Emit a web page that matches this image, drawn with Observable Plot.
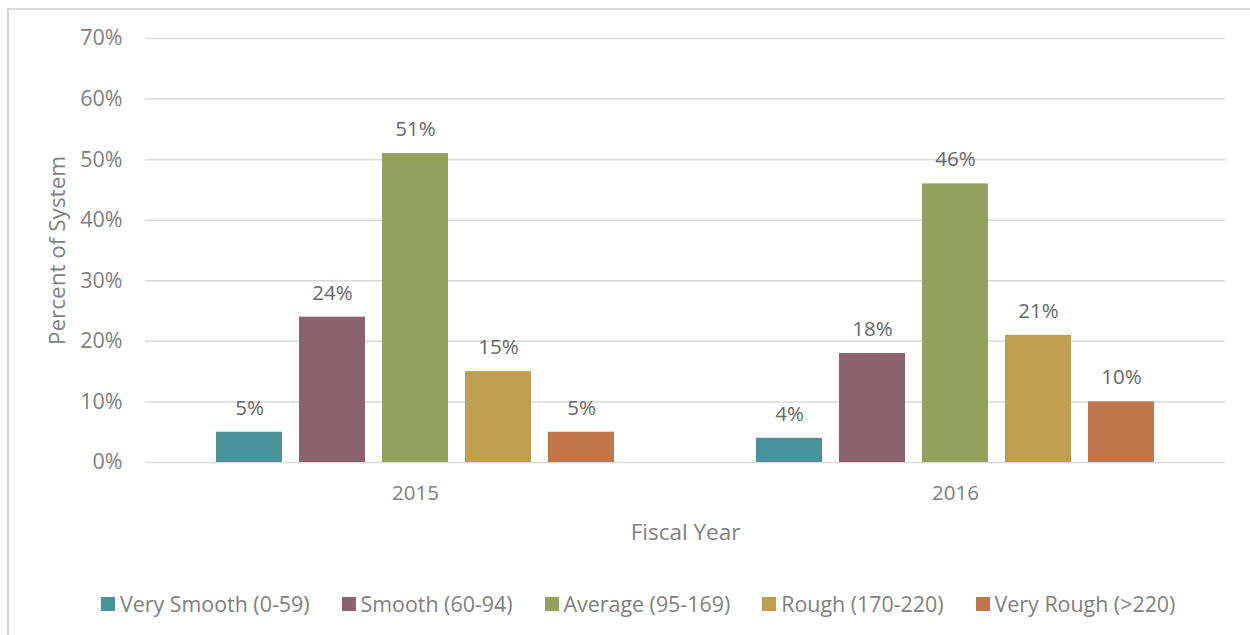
<!DOCTYPE html>
<html>
<head>
<meta charset="utf-8">
<script src="https://cdn.jsdelivr.net/npm/d3@7"></script>
<script src="https://cdn.jsdelivr.net/npm/@observablehq/plot@0.6"></script>
<style>
  body { margin: 0; background: #fff; font-family: "Open Sans", sans-serif; }
  #frame { position: absolute; left: 7px; top: 8px; width: 1260px; height: 650px; border: 2px solid #d9d9d9; box-sizing: border-box; }
  #chart { position: absolute; left: 0; top: 0; }
  #legend { position: absolute; left: 101px; top: 589px; display: flex; gap: 32px; font-size: 21.4px; color: #808080; white-space: nowrap; }
  .item { display: flex; align-items: center; gap: 5px; }
  .sw { width: 14px; height: 14px; display: inline-block; }
</style>
</head>
<body>
<div id="frame"></div>
<div id="chart"></div>
<div id="legend"></div>
<script>
const years = ["2015", "2016"];
const categories = ["Very Smooth (0-59)", "Smooth (60-94)", "Average (95-169)", "Rough (170-220)", "Very Rough (>220)"];
const values2015 = [5, 24, 51, 15, 5];
const values2016 = [4, 18, 46, 21, 10];
const colors = ["#4A929A", "#8A636E", "#94A05E", "#BE9F50", "#C0764A"];
const yTicks = [0, 10, 20, 30, 40, 50, 60, 70];

const seriesByYear = [values2015, values2016];
const data = years.flatMap((yr, i) => categories.map((c, j) => ({year: yr, cat: c, value: seriesByYear[i][j]})));

const chart = Plot.plot({
  width: 1250, height: 560,
  marginLeft: 145, marginRight: 25, marginTop: 38, marginBottom: 98,
  style: {fontFamily: "Open Sans", fontSize: "20px", color: "#808080", background: "transparent", overflow: "visible"},
  fx: {domain: years, paddingInner: 0, paddingOuter: 0},
  x: {domain: categories, paddingInner: 0.205, paddingOuter: 0.855, axis: null},
  y: {domain: [0, 70]},
  color: {domain: categories, range: colors},
  marks: [
    Plot.gridY(yTicks, {stroke: "#d9d9d9", strokeOpacity: 1, strokeWidth: 1.5}),
    Plot.barY(data, {fx: "year", x: "cat", y: "value", fill: "cat"}),
    Plot.text(data, {fx: "year", x: "cat", y: "value", text: d => d.value + "%", dy: -24, fill: "#666666", fontSize: 20.5}),
    Plot.axisY(yTicks, {tickSize: 0, tickPadding: 23, tickFormat: d => d + "%", fontSize: 21.5, label: "Percent of System", labelArrow: "none", labelAnchor: "center", labelOffset: 96, fill: "#808080"}),
    Plot.axisFx({anchor: "bottom", tickSize: 0, tickPadding: 23, fontSize: 20.5, label: "Fiscal Year", labelArrow: "none", labelAnchor: "center", labelOffset: 77, fill: "#808080"})
  ]
});
document.getElementById("chart").append(chart);
// enlarge axis titles to match the reference
chart.querySelectorAll("g[aria-label='y-axis label'] text, g[aria-label='fx-axis label'] text").forEach(t => t.setAttribute("font-size", "22.5"));

const legend = document.getElementById("legend");
categories.forEach((c, i) => {
  const it = document.createElement("div");
  it.className = "item";
  const sw = document.createElement("span");
  sw.className = "sw";
  sw.style.background = colors[i];
  const tx = document.createElement("span");
  tx.textContent = c;
  it.append(sw, tx);
  legend.append(it);
});
</script>
</body>
</html>
